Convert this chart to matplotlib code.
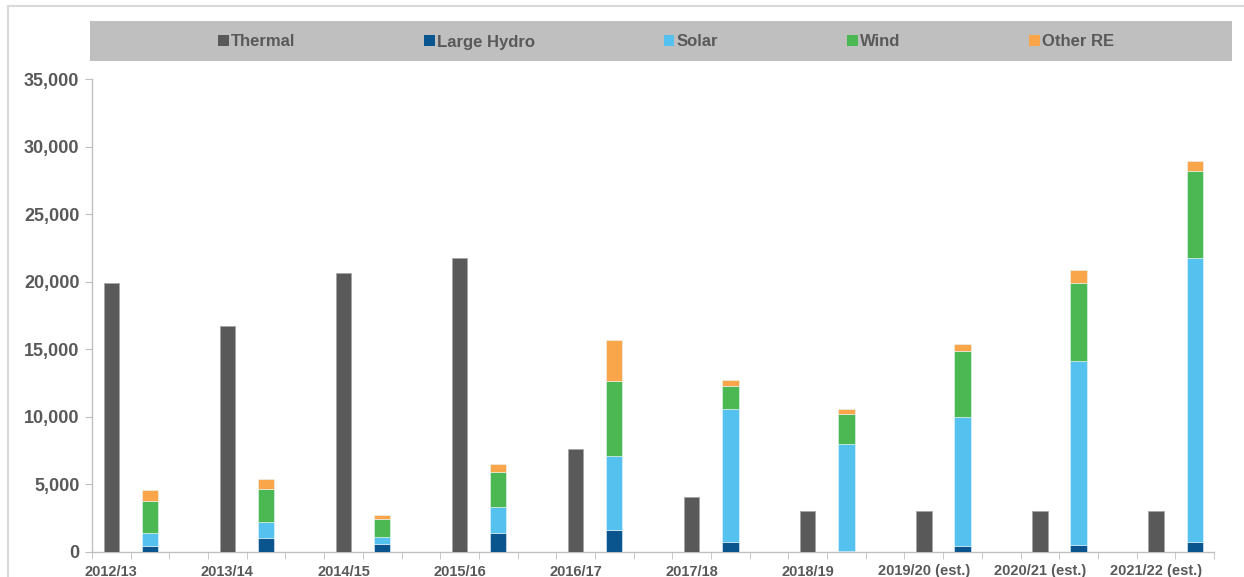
import matplotlib
matplotlib.use("Agg")
import matplotlib.pyplot as plt
from matplotlib.patches import Patch, Rectangle
from matplotlib.lines import Line2D
import numpy as np

plt.rcParams['font.family'] = ['Liberation Sans', 'DejaVu Sans']

years = ["2012/13", "2013/14", "2014/15", "2015/16", "2016/17", "2017/18",
         "2018/19", "2019/20 (est.)", "2020/21 (est.)", "2021/22 (est.)"]
thermal = [19900, 16700, 20650, 21750, 7620, 4100, 3000, 3000, 3000, 3000]
large_hydro = [480, 1000, 600, 1430, 1650, 730, 100, 480, 500, 730]
solar = [900, 1200, 490, 1870, 5470, 9850, 7890, 9500, 13620, 21020]
wind = [2420, 2440, 1350, 2620, 5530, 1700, 2220, 4880, 5770, 6460]
other_re = [770, 740, 300, 570, 3040, 450, 370, 520, 970, 740]

c_thermal = "#595959"
c_hydro = "#0B558E"
c_solar = "#55C1EE"
c_wind = "#4BB854"
c_other = "#F9A54A"
txt = "#595959"

fig = plt.figure(figsize=(12.44, 5.77), dpi=100)
W, H = 1244, 577

# outer border lines
fig.add_artist(Line2D([8 / W, 8 / W], [0, 1 - 6 / H], color="#D9D9D9", lw=1.5, transform=fig.transFigure))
fig.add_artist(Line2D([8 / W, 1], [1 - 6 / H, 1 - 6 / H], color="#D9D9D9", lw=1.5, transform=fig.transFigure))

# legend band
fig.add_artist(Rectangle((90 / W, 1 - 61 / H), (1232 - 90) / W, 40 / H, transform=fig.transFigure,
                         facecolor="#BFBFBF", edgecolor="none"))

ax = fig.add_axes([92 / W, 25 / H, (1214 - 92) / W, (552 - 79) / H])

n = len(years)
x_th = np.arange(n) * 3
x_re = x_th + 1
bw = 0.4

ax.bar(x_th, thermal, width=bw, color=c_thermal, edgecolor="#A6A6A6", linewidth=0.6, zorder=3)
bottom = np.zeros(n)
for vals, col in [(large_hydro, c_hydro), (solar, c_solar), (wind, c_wind), (other_re, c_other)]:
    ax.bar(x_re, vals, width=0.42, bottom=bottom, color=col, edgecolor="#E8F4FA", linewidth=0.4, zorder=3)
    bottom += np.array(vals)

ax.set_xlim(-0.5, 3 * n - 1.5)
ax.set_ylim(0, 35000)
ax.set_yticks(np.arange(0, 35001, 5000))
ax.set_yticklabels([f"{v:,}" for v in range(0, 35001, 5000)], fontsize=13, fontweight="bold", color=txt)
ax.tick_params(axis="y", length=5, color="#BFBFBF", pad=4)

ax.set_xticks(x_th)
ax.set_xticklabels(years, fontsize=10.5, fontweight="bold", color=txt)
ax.set_xticks(np.arange(-0.5, 3 * n - 1.0, 1.0), minor=True)
ax.tick_params(axis="x", which="major", length=0, pad=9)
ax.tick_params(axis="x", which="minor", length=5, color="#BFBFBF")

for s in ["top", "right"]:
    ax.spines[s].set_visible(False)
ax.spines["left"].set_color("#BFBFBF")
ax.spines["bottom"].set_color("#BFBFBF")
ax.spines["left"].set_linewidth(1.0)
ax.spines["bottom"].set_linewidth(1.0)

handles = [Patch(facecolor=c, edgecolor="none") for c in [c_thermal, c_hydro, c_solar, c_wind, c_other]]
labels = ["Thermal", "Large Hydro", "Solar", "Wind", "Other RE"]
leg = fig.legend(handles, labels, loc="center", bbox_to_anchor=(666 / W, 1 - 42 / H), ncol=5,
                 frameon=False, fontsize=12, handlelength=0.65, handleheight=0.65,
                 handletextpad=0.15, columnspacing=7.7)
for t in leg.get_texts():
    t.set_color(txt)
    t.set_fontweight("bold")

fig.savefig("out.png", dpi=100)
